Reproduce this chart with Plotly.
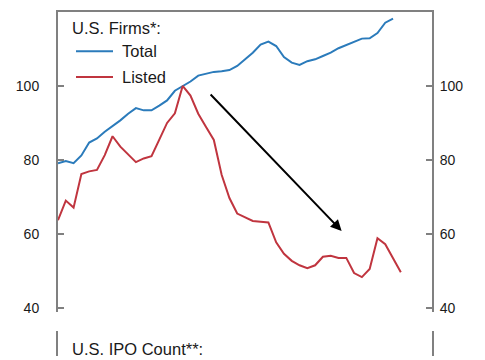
import plotly.graph_objects as go

years_total = list(range(1980, 2024))
total = [79.1, 79.7, 79.1, 81.2, 84.7, 85.8, 87.6, 89.1, 90.7, 92.5,
         94.0, 93.4, 93.4, 94.7, 96.1, 98.7, 99.9, 101.2, 102.8, 103.4,
         103.8, 104.0, 104.3, 105.4, 107.2, 109.0, 111.2, 112.0, 110.8, 107.8,
         106.3, 105.7, 106.7, 107.2, 108.1, 109.0, 110.2, 111.0, 111.9, 112.8,
         112.9, 114.3, 117.1, 118.2]

years_listed = list(range(1980, 2025))
listed = [63.7, 69.0, 67.1, 76.2, 76.9, 77.3, 81.3, 86.4, 83.6, 81.5,
          79.4, 80.4, 81.0, 85.5, 90.0, 92.6, 100.0, 97.4, 92.5, 88.9,
          85.4, 76.0, 69.7, 65.5, 64.4, 63.5, 63.3, 63.1, 57.7, 54.6,
          52.7, 51.5, 50.7, 51.5, 53.8, 54.1, 53.5, 53.5, 49.4, 48.3,
          50.5, 58.8, 57.2, 53.4, 49.6]

y_ticks = [40, 60, 80, 100]
x_range = [1980, 2028]
y_range = [39, 120]

BLUE = "#2b7bbb"
RED = "#c0353f"
GRAY = "#808080"
TXT = "#1a1a1a"
FONT = "Liberation Sans, Arial, sans-serif"

fig = go.Figure()
fig.add_trace(go.Scatter(x=years_total, y=total, mode="lines",
                         line=dict(color=BLUE, width=2), xaxis="x", yaxis="y"))
fig.add_trace(go.Scatter(x=years_listed, y=listed, mode="lines",
                         line=dict(color=RED, width=2), xaxis="x", yaxis="y"))

top_dom = [0.1293, 1.0]
bot_dom = [0.0, 0.0718]

fig.update_layout(
    width=485, height=360,
    margin=dict(l=58, r=53, t=12, b=0),
    paper_bgcolor="white", plot_bgcolor="white",
    showlegend=False,
    font=dict(family=FONT, color=TXT, size=14),
    xaxis=dict(range=x_range, domain=[0, 1], anchor="y", side="top",
               showline=True, linecolor=GRAY, linewidth=2,
               showticklabels=False, ticks="", showgrid=False, zeroline=False),
    yaxis=dict(range=y_range, domain=top_dom, anchor="x",
               tickvals=y_ticks, ticks="inside", ticklen=6, tickcolor=GRAY,
               tickwidth=1.5, showline=True, linecolor=GRAY, linewidth=2,
               showgrid=False, zeroline=False, ticklabelstandoff=14,
               tickfont=dict(size=14, color=TXT, family=FONT)),
    yaxis2=dict(range=y_range, overlaying="y", side="right", anchor="x",
                tickvals=y_ticks, ticks="inside", ticklen=6, tickcolor=GRAY,
                tickwidth=1.5, showline=True, linecolor=GRAY, linewidth=2,
                showgrid=False, zeroline=False, ticklabelstandoff=3,
                tickfont=dict(size=14, color=TXT, family=FONT)),
    xaxis2=dict(range=x_range, domain=[0, 1], anchor="y3",
                showline=False, showticklabels=False, ticks="",
                showgrid=False, zeroline=False),
    yaxis3=dict(range=[0, 1], domain=bot_dom, anchor="x2",
                showline=True, mirror=True, linecolor=GRAY, linewidth=2,
                showticklabels=False, ticks="", showgrid=False, zeroline=False),
)

# dummy traces so the extra axes render
fig.add_trace(go.Scatter(x=[None], y=[None], xaxis="x", yaxis="y2",
                         hoverinfo="skip"))
fig.add_trace(go.Scatter(x=[None], y=[None], xaxis="x2", yaxis="y3",
                         hoverinfo="skip"))

def px2paper_x(px):
    return (px - 58) / 374

def px2paper_y(py):
    return (360 - py) / 348

# legend title and entries
fig.add_annotation(text="U.S. Firms*:", xref="paper", yref="paper",
                   x=px2paper_x(70), y=px2paper_y(28.3), xanchor="left",
                   yanchor="middle", showarrow=False,
                   font=dict(size=16.5, color=TXT, family=FONT))
fig.add_annotation(text="Total", xref="paper", yref="paper",
                   x=px2paper_x(120), y=px2paper_y(51.7), xanchor="left",
                   yanchor="middle", showarrow=False,
                   font=dict(size=16.5, color=TXT, family=FONT))
fig.add_annotation(text="Listed", xref="paper", yref="paper",
                   x=px2paper_x(120), y=px2paper_y(77.7), xanchor="left",
                   yanchor="middle", showarrow=False,
                   font=dict(size=16.5, color=TXT, family=FONT))
fig.add_shape(type="line", xref="paper", yref="paper",
              x0=px2paper_x(76), x1=px2paper_x(113),
              y0=px2paper_y(51.7), y1=px2paper_y(51.7),
              line=dict(color=BLUE, width=2))
fig.add_shape(type="line", xref="paper", yref="paper",
              x0=px2paper_x(76), x1=px2paper_x(113),
              y0=px2paper_y(77.7), y1=px2paper_y(77.7),
              line=dict(color=RED, width=2))

# bottom panel title
fig.add_annotation(text="U.S. IPO Count**:", xref="paper", yref="paper",
                   x=px2paper_x(70), y=px2paper_y(352.5), xanchor="left",
                   yanchor="middle", showarrow=False,
                   font=dict(size=16.5, color=TXT, family=FONT))

# arrow
fig.add_annotation(x=2016.4, y=60.8, ax=1999.4, ay=98.1,
                   xref="x", yref="y", axref="x", ayref="y",
                   text="", showarrow=True, arrowhead=2, arrowsize=1.1,
                   arrowwidth=2, arrowcolor="black", standoff=0)

fig.write_html("out.html", config={"displayModeBar": False},
               post_script="document.body.style.margin='0px';")
